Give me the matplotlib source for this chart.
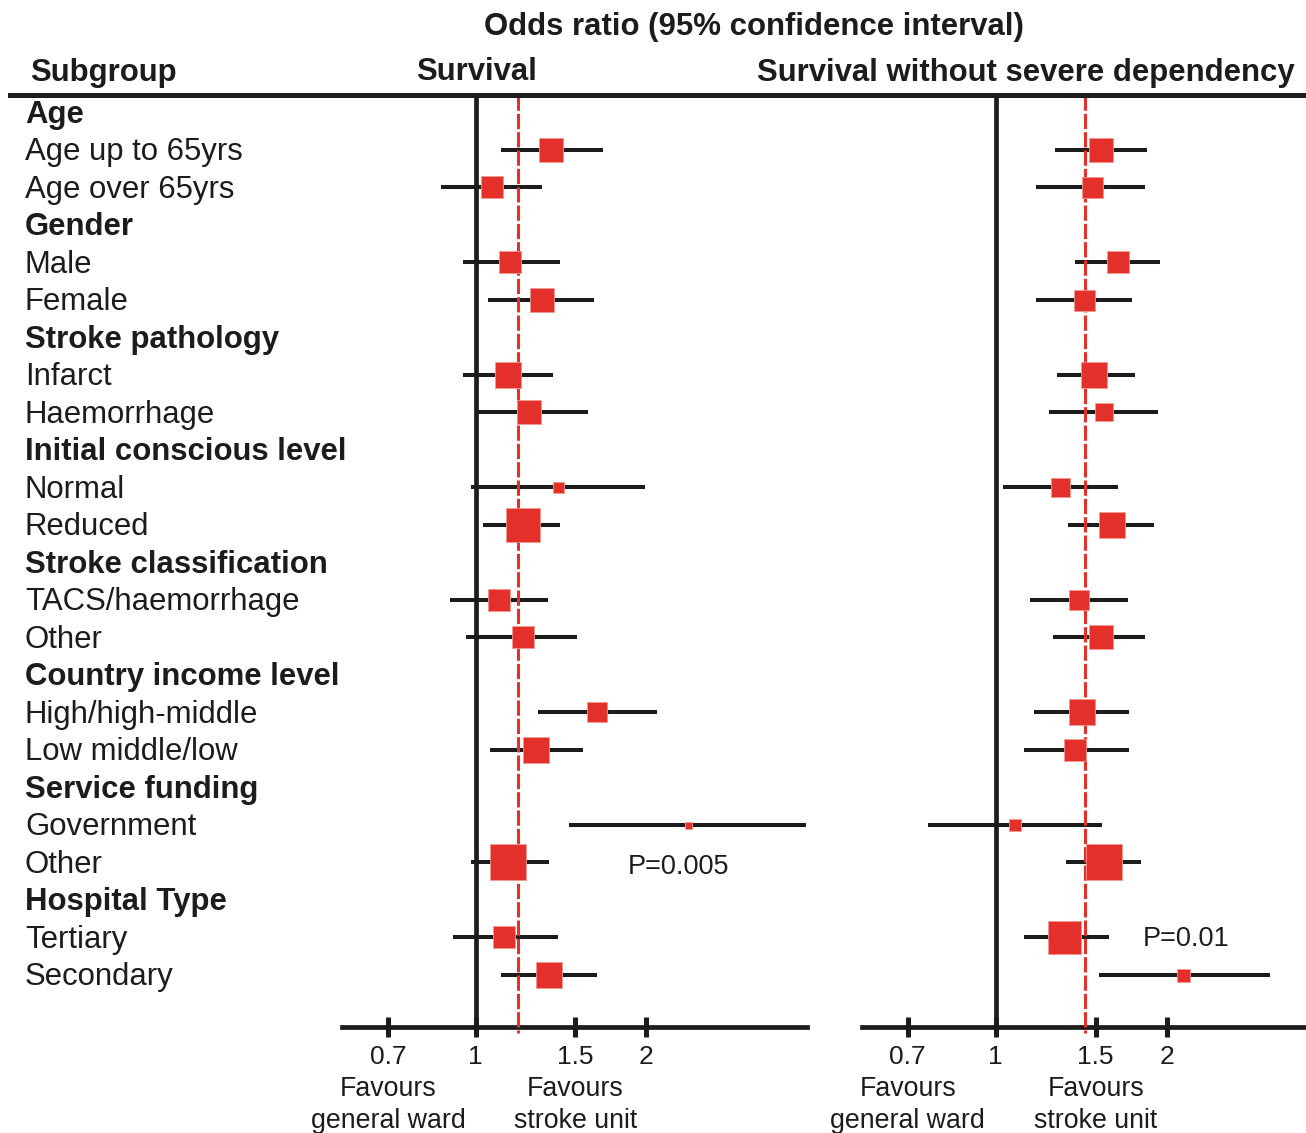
import matplotlib
matplotlib.use("Agg")
import matplotlib.pyplot as plt
from matplotlib.lines import Line2D
from matplotlib.ticker import NullLocator
from matplotlib.transforms import blended_transform_factory, offset_copy

# ---------------- data ----------------
row_labels = ["Age", "Age up to 65yrs", "Age over 65yrs",
              "Gender", "Male", "Female",
              "Stroke pathology", "Infarct", "Haemorrhage",
              "Initial conscious level", "Normal", "Reduced",
              "Stroke classification", "TACS/haemorrhage", "Other",
              "Country income level", "High/high-middle", "Low middle/low",
              "Service funding", "Government", "Other",
              "Hospital Type", "Tertiary", "Secondary"]
row_is_header = [True, False, False] * 8

# Survival: odds ratio, 95% CI, relative weight (marker side)
surv_or = [1.36, 1.07, 1.15, 1.31, 1.14, 1.24, 1.40, 1.21, 1.10, 1.21, 1.64, 1.28, 2.37, 1.14, 1.12, 1.35]
surv_lo = [1.11, 0.87, 0.95, 1.05, 0.95, 1.00, 0.98, 1.03, 0.90, 0.96, 1.29, 1.06, 1.46, 0.98, 0.91, 1.11]
surv_hi = [1.68, 1.31, 1.41, 1.62, 1.37, 1.58, 1.99, 1.41, 1.34, 1.51, 2.09, 1.55, 3.83, 1.35, 1.40, 1.64]
surv_w = [24, 23, 23, 24, 27, 24, 11, 34, 22, 23, 20, 26, 7, 36, 22, 26]
surv_overall = 1.186

# Survival without severe dependency
indep_or = [1.53, 1.48, 1.64, 1.43, 1.49, 1.55, 1.30, 1.60, 1.40, 1.53, 1.42, 1.38, 1.08, 1.55, 1.32, 2.14]
indep_lo = [1.27, 1.18, 1.38, 1.18, 1.28, 1.24, 1.03, 1.34, 1.15, 1.26, 1.17, 1.12, 0.76, 1.33, 1.12, 1.52]
indep_hi = [1.85, 1.83, 1.95, 1.74, 1.76, 1.93, 1.64, 1.90, 1.71, 1.83, 1.72, 1.72, 1.54, 1.80, 1.58, 3.04]
indep_w = [24, 21, 23, 21, 27, 18, 19, 27, 20, 24, 26, 23, 12, 36, 33, 13]
indep_overall = 1.438

tick_vals = [0.7, 1, 1.5, 2]
tick_labels = ["0.7", "1", "1.5", "2"]
p_texts = ["P=0.005", "P=0.01"]

# ---------------- figure ----------------
plt.rcParams["font.family"] = ["Liberation Sans", "DejaVu Sans"]
W, H = 1306, 1133
fig = plt.figure(figsize=(W / 100, H / 100), dpi=100)
BLACK = "#1c1c1c"
RED = "#e3302a"
TXT_SHIFT = 2.5  # px downward shift for text centring

def fx(px):
    return px / W

def fy(py):
    return 1 - (py + TXT_SHIFT) / H

ROW0, ROWH = 112.0, 37.52
TOP, BOT = 95.0, 1027.0
ylim = ((BOT - ROW0) / ROWH, (TOP - ROW0) / ROWH)

sub_rows = [i for i, h in enumerate(row_is_header) if not h]

panels = [
    dict(x0=341.7, x1=806.7, xlim=(0.5796, 3.846), orr=surv_or, lo=surv_lo, hi=surv_hi,
         w=surv_w, overall=surv_overall, p=p_texts[0], p_xy=(679, 864)),
    dict(x0=861.7, x1=1306.0, xlim=(0.581, 3.518), orr=indep_or, lo=indep_lo, hi=indep_hi,
         w=indep_w, overall=indep_overall, p=p_texts[1], p_xy=(1186, 937)),
]

axes = []
for pnl in panels:
    ax = fig.add_axes([pnl["x0"] / W, 1 - BOT / H, (pnl["x1"] - pnl["x0"]) / W, (BOT - TOP) / H])
    axes.append(ax)
    ax.set_xscale("log")
    ax.set_xlim(*pnl["xlim"])
    ax.set_ylim(*ylim)
    for s in ["top", "left", "right"]:
        ax.spines[s].set_visible(False)
    ax.spines["bottom"].set_linewidth(3.4)
    ax.spines["bottom"].set_color(BLACK)
    ax.set_yticks([])
    ax.set_xticks(tick_vals)
    ax.set_xticklabels(tick_labels)
    ax.xaxis.set_minor_locator(NullLocator())
    ax.tick_params(axis="x", direction="inout", length=14.4, width=3.6, color=BLACK,
                   labelsize=19, pad=5.5, labelcolor=BLACK)
    ax.patch.set_alpha(0)
    ax.axvline(1, color=BLACK, lw=3.4, zorder=2)
    ax.plot([pnl["overall"], pnl["overall"]], [ylim[1], ylim[0] + 6 / ROWH], color=RED, lw=2.2,
            ls=(0, (5, 1)), zorder=4, clip_on=False)
    for k, r in enumerate(sub_rows):
        ax.plot([pnl["lo"][k], pnl["hi"][k]], [r, r], color=BLACK, lw=2.9,
                solid_capstyle="butt", zorder=3)
        ax.plot(pnl["orr"][k], r, marker="s", ms=pnl["w"][k] * 0.72, color=RED,
                mec="#f29a90", mew=0.6, zorder=5, linestyle="none")
    bt = blended_transform_factory(ax.transData, fig.transFigure)
    ax.text(0.7, fy(1087), "Favours", transform=bt, ha="center", va="center", fontsize=19.3, color=BLACK)
    ax.text(0.7, fy(1118), "general ward", transform=bt, ha="center", va="center", fontsize=19.3, color=BLACK)
    ax.text(1.5, fy(1087), "Favours", transform=bt, ha="center", va="center", fontsize=19.3, color=BLACK)
    ax.text(1.5, fy(1118), "stroke unit", transform=bt, ha="center", va="center", fontsize=19.3, color=BLACK)
    fig.text(fx(pnl["p_xy"][0]), fy(pnl["p_xy"][1]), pnl["p"], ha="center", va="center",
             fontsize=19.5, color=BLACK)

# row labels
lt = offset_copy(blended_transform_factory(fig.transFigure, axes[0].transData),
                 fig=fig, x=0, y=-TXT_SHIFT * 0.72, units="points")
for i, lab in enumerate(row_labels):
    fig.text(fx(25), i, lab, transform=lt, ha="left", va="center", fontsize=22.4,
             fontweight="bold" if row_is_header[i] else "normal", color=BLACK)

# headers
fig.text(fx(754), fy(24), "Odds ratio (95% confidence interval)", ha="center", va="center",
         fontsize=22.4, fontweight="bold", color=BLACK)
fig.text(fx(30), fy(70), "Subgroup", ha="left", va="center", fontsize=22.4, fontweight="bold", color=BLACK)
fig.text(fx(477), fy(70), "Survival", ha="center", va="center", fontsize=22.4, fontweight="bold", color=BLACK)
fig.text(fx(1026), fy(70), "Survival without severe dependency", ha="center", va="center",
         fontsize=22.4, fontweight="bold", color=BLACK)

fig.add_artist(Line2D([fx(10), 1.0], [1 - TOP / H, 1 - TOP / H], transform=fig.transFigure,
                      lw=3.6, color=BLACK))

fig.savefig("out.png", dpi=100, facecolor="white")
